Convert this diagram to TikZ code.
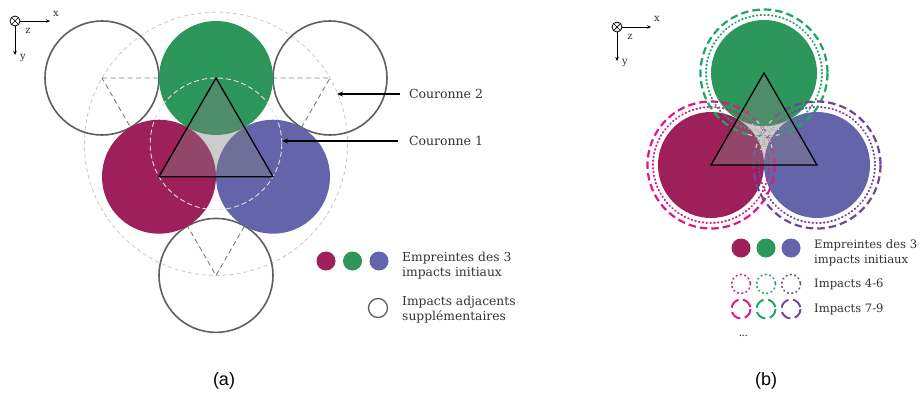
\documentclass[tikz,border=0pt]{standalone}
\usepackage{fontspec}
\newfontfamily\labfont{DejaVu Serif}
\newfontfamily\capfont{Liberation Sans}
\usetikzlibrary{arrows.meta,calc}
\definecolor{cred}{RGB}{158,32,90}
\definecolor{cgreen}{RGB}{45,150,90}
\definecolor{cblue}{RGB}{100,100,170}
\definecolor{rred}{RGB}{222,25,130}
\definecolor{rgreen}{RGB}{30,165,100}
\definecolor{rblue}{RGB}{110,70,160}
\definecolor{outl}{RGB}{95,95,95}
\definecolor{cour2}{RGB}{200,200,200}
\definecolor{cour1}{RGB}{225,225,225}
\definecolor{dtri}{RGB}{125,125,125}
\begin{document}
\begin{tikzpicture}[x=1pt,y=-1pt,
  outcirc/.style={draw=outl,line width=1.6pt},
  tri/.style={draw=black,line width=1.3pt,fill=gray,fill opacity=0.4,line join=miter},
  arr/.style={-{Stealth[length=6pt,width=5pt]},line width=1.4pt,black},
  lab/.style={font=\labfont\fontsize{12.5}{14.5}\selectfont,inner sep=0pt,anchor=west,text=black!80},
  leg/.style={font=\labfont\fontsize{12.3}{15}\selectfont,inner sep=0pt,anchor=west,align=left,text=black!80},
  legb/.style={font=\labfont\fontsize{11.6}{15}\selectfont,inner sep=0pt,anchor=west,align=left,text=black!80},
  axlab/.style={font=\labfont\fontsize{10}{11}\selectfont,inner sep=0pt,text=black!80},
  axarr/.style={-{Stealth[length=4pt,width=3.5pt]},line width=0.9pt,black},
  caption/.style={font=\capfont\fontsize{18}{20}\selectfont,inner sep=0pt},
  dotring/.style={line width=2pt,dash pattern=on 0.6pt off 3.2pt,line cap=round},
  dashring/.style={line width=2.2pt,dash pattern=on 7.5pt off 4pt},
  legdot/.style={line width=1.9pt,dash pattern=on 0.6pt off 3.8pt,line cap=round},
  legdash/.style={line width=1.9pt,dash pattern=on 11pt off 4.5pt}
]
\useasboundingbox (0,0) rectangle (921,400);
\fill[white] (0,0) rectangle (921,400);

% ================= panel (a) =================
\coordinate (G) at (216,78);
\coordinate (R) at (159,176.7);
\coordinate (B) at (273,176.7);
\coordinate (TL) at (102,78);
\coordinate (TR) at (330,78);
\coordinate (BT) at (216,275.4);
\coordinate (C) at (216,143.8);

% couronne 2
\draw[cour2,line width=0.8pt,dash pattern=on 4pt off 3pt] (C) circle (131.6);
% dashed inverted triangle
\draw[dtri,line width=0.9pt,dash pattern=on 5pt off 3.5pt] (TL) -- (TR) -- (BT) -- cycle;
% adjacent impacts
\draw[outcirc] (TL) circle (57);
\draw[outcirc] (TR) circle (57);
\draw[outcirc] (BT) circle (57);
% initial impacts
\fill[cgreen] (G) circle (57);
\fill[cred] (R) circle (57);
\fill[cblue] (B) circle (57);
% couronne 1
\draw[cour1,line width=0.9pt,dash pattern=on 5pt off 3pt] (C) circle (65.8);
% triangle
\draw[tri] (G) -- (R) -- (B) -- cycle;

% arrows and labels
\coordinate (c2p) at (337,94);
\coordinate (c1p) at (282,141);
\node[lab,outer xsep=9pt] (c2lab) at (400,94) {Couronne 2};
\node[lab,outer xsep=11pt] (c1lab) at (398,141) {Couronne 1};
\draw[arr] (c2lab.west) -- (c2p);
\draw[arr] (c1lab.west) -- (c1p);

% legend (a)
\fill[cred] (326,261) circle (9.5);
\fill[cgreen] (352.5,261) circle (9.5);
\fill[cblue] (379,261) circle (9.5);
\node[leg] (la1) at (402,265.5) {Empreintes des 3\\impacts initiaux};
\draw[outl,line width=1.3pt] (378,308) circle (9.5);
\node[leg] (la2) at (402,310) {Impacts adjacents\\supplémentaires};

% axes (a)
\coordinate (oa) at (15,21);
\draw[line width=0.8pt] (oa) circle (5);
\draw[line width=0.7pt] ($(oa)+(-3.3,-3.3)$) -- ($(oa)+(3.3,3.3)$);
\draw[line width=0.7pt] ($(oa)+(-3.3,3.3)$) -- ($(oa)+(3.3,-3.3)$);
\coordinate (oax) at (50,21);
\coordinate (oay) at (15,55);
\draw[axarr] ($(oa)+(5,0)$) -- (oax);
\draw[axarr] ($(oa)+(0,5)$) -- (oay);
\node[axlab] (xa) at (56,14) {x};
\node[axlab] (ya) at (23,58) {y};
\node[axlab] (za) at (28,31) {z};

\node[caption] (capa) at (224,381) {(a)};

% ================= panel (b) =================
\coordinate (Gb) at (764,73);
\coordinate (Rb) at (711,165);
\coordinate (Bb) at (817,165);
\coordinate (Cb) at (764,134.3);

\fill[cgreen] (Gb) circle (53);
\fill[cred] (Rb) circle (53);
\fill[cblue] (Bb) circle (53);

\draw[dotring,rgreen] (Gb) circle (58);
\draw[dotring,rred] (Rb) circle (58);
\draw[dotring,rblue] (Bb) circle (58);
\draw[dashring,rgreen] (Gb) circle (63.5);
\draw[dashring,rred] (Rb) circle (63.5);
\draw[dashring,rblue] (Bb) circle (63.5);

\begin{scope}
  \clip (Cb) circle (16);
  \fill[cred] (Rb) circle (53);
  \fill[cblue] (Bb) circle (53);
  \fill[cgreen] (Gb) circle (53);
  \draw[dotring,white] (Gb) circle (58);
  \draw[dotring,white] (Rb) circle (58);
  \draw[dotring,white] (Bb) circle (58);
  \draw[line width=1.2pt,dash pattern=on 4pt off 3pt,white] (Gb) circle (63.5);
  \draw[line width=1.2pt,dash pattern=on 4pt off 3pt,white] (Rb) circle (63.5);
  \draw[line width=1.2pt,dash pattern=on 4pt off 3pt,white] (Bb) circle (63.5);
\end{scope}

\draw[tri] (Gb) -- (Rb) -- (Bb) -- cycle;

% legend (b)
\fill[cred] (741,248) circle (9.5);
\fill[cgreen] (766,248) circle (9.5);
\fill[cblue] (791,248) circle (9.5);
\node[legb] (lb1) at (814,252.5) {Empreintes des 3\\impacts initiaux};
\draw[legdot,rred] (741,284) circle (9.5);
\draw[legdot,rgreen] (766,284) circle (9.5);
\draw[legdot,rblue] (791,284) circle (9.5);
\node[legb] (lb2) at (814,284) {Impacts 4-6};
\draw[legdash,rred] (741,309) circle (9.5);
\draw[legdash,rgreen] (766,309) circle (9.5);
\draw[legdash,rblue] (791,309) circle (9.5);
\node[legb] (lb3) at (814,309) {Impacts 7-9};
\node[legb,font=\labfont\bfseries\fontsize{8}{9}\selectfont] (lb4) at (739,336) {...};

% axes (b)
\coordinate (ob) at (617,27);
\draw[line width=0.8pt] (ob) circle (5);
\draw[line width=0.7pt] ($(ob)+(-3.3,-3.3)$) -- ($(ob)+(3.3,3.3)$);
\draw[line width=0.7pt] ($(ob)+(-3.3,3.3)$) -- ($(ob)+(3.3,-3.3)$);
\coordinate (obx) at (651,27);
\coordinate (oby) at (617,61);
\draw[axarr] ($(ob)+(5,0)$) -- (obx);
\draw[axarr] ($(ob)+(0,5)$) -- (oby);
\node[axlab] (xb) at (657,19) {x};
\node[axlab] (yb) at (625,63) {y};
\node[axlab] (zb) at (630,37) {z};

\node[caption] (capb) at (766,381) {(b)};
\end{tikzpicture}
\end{document}
